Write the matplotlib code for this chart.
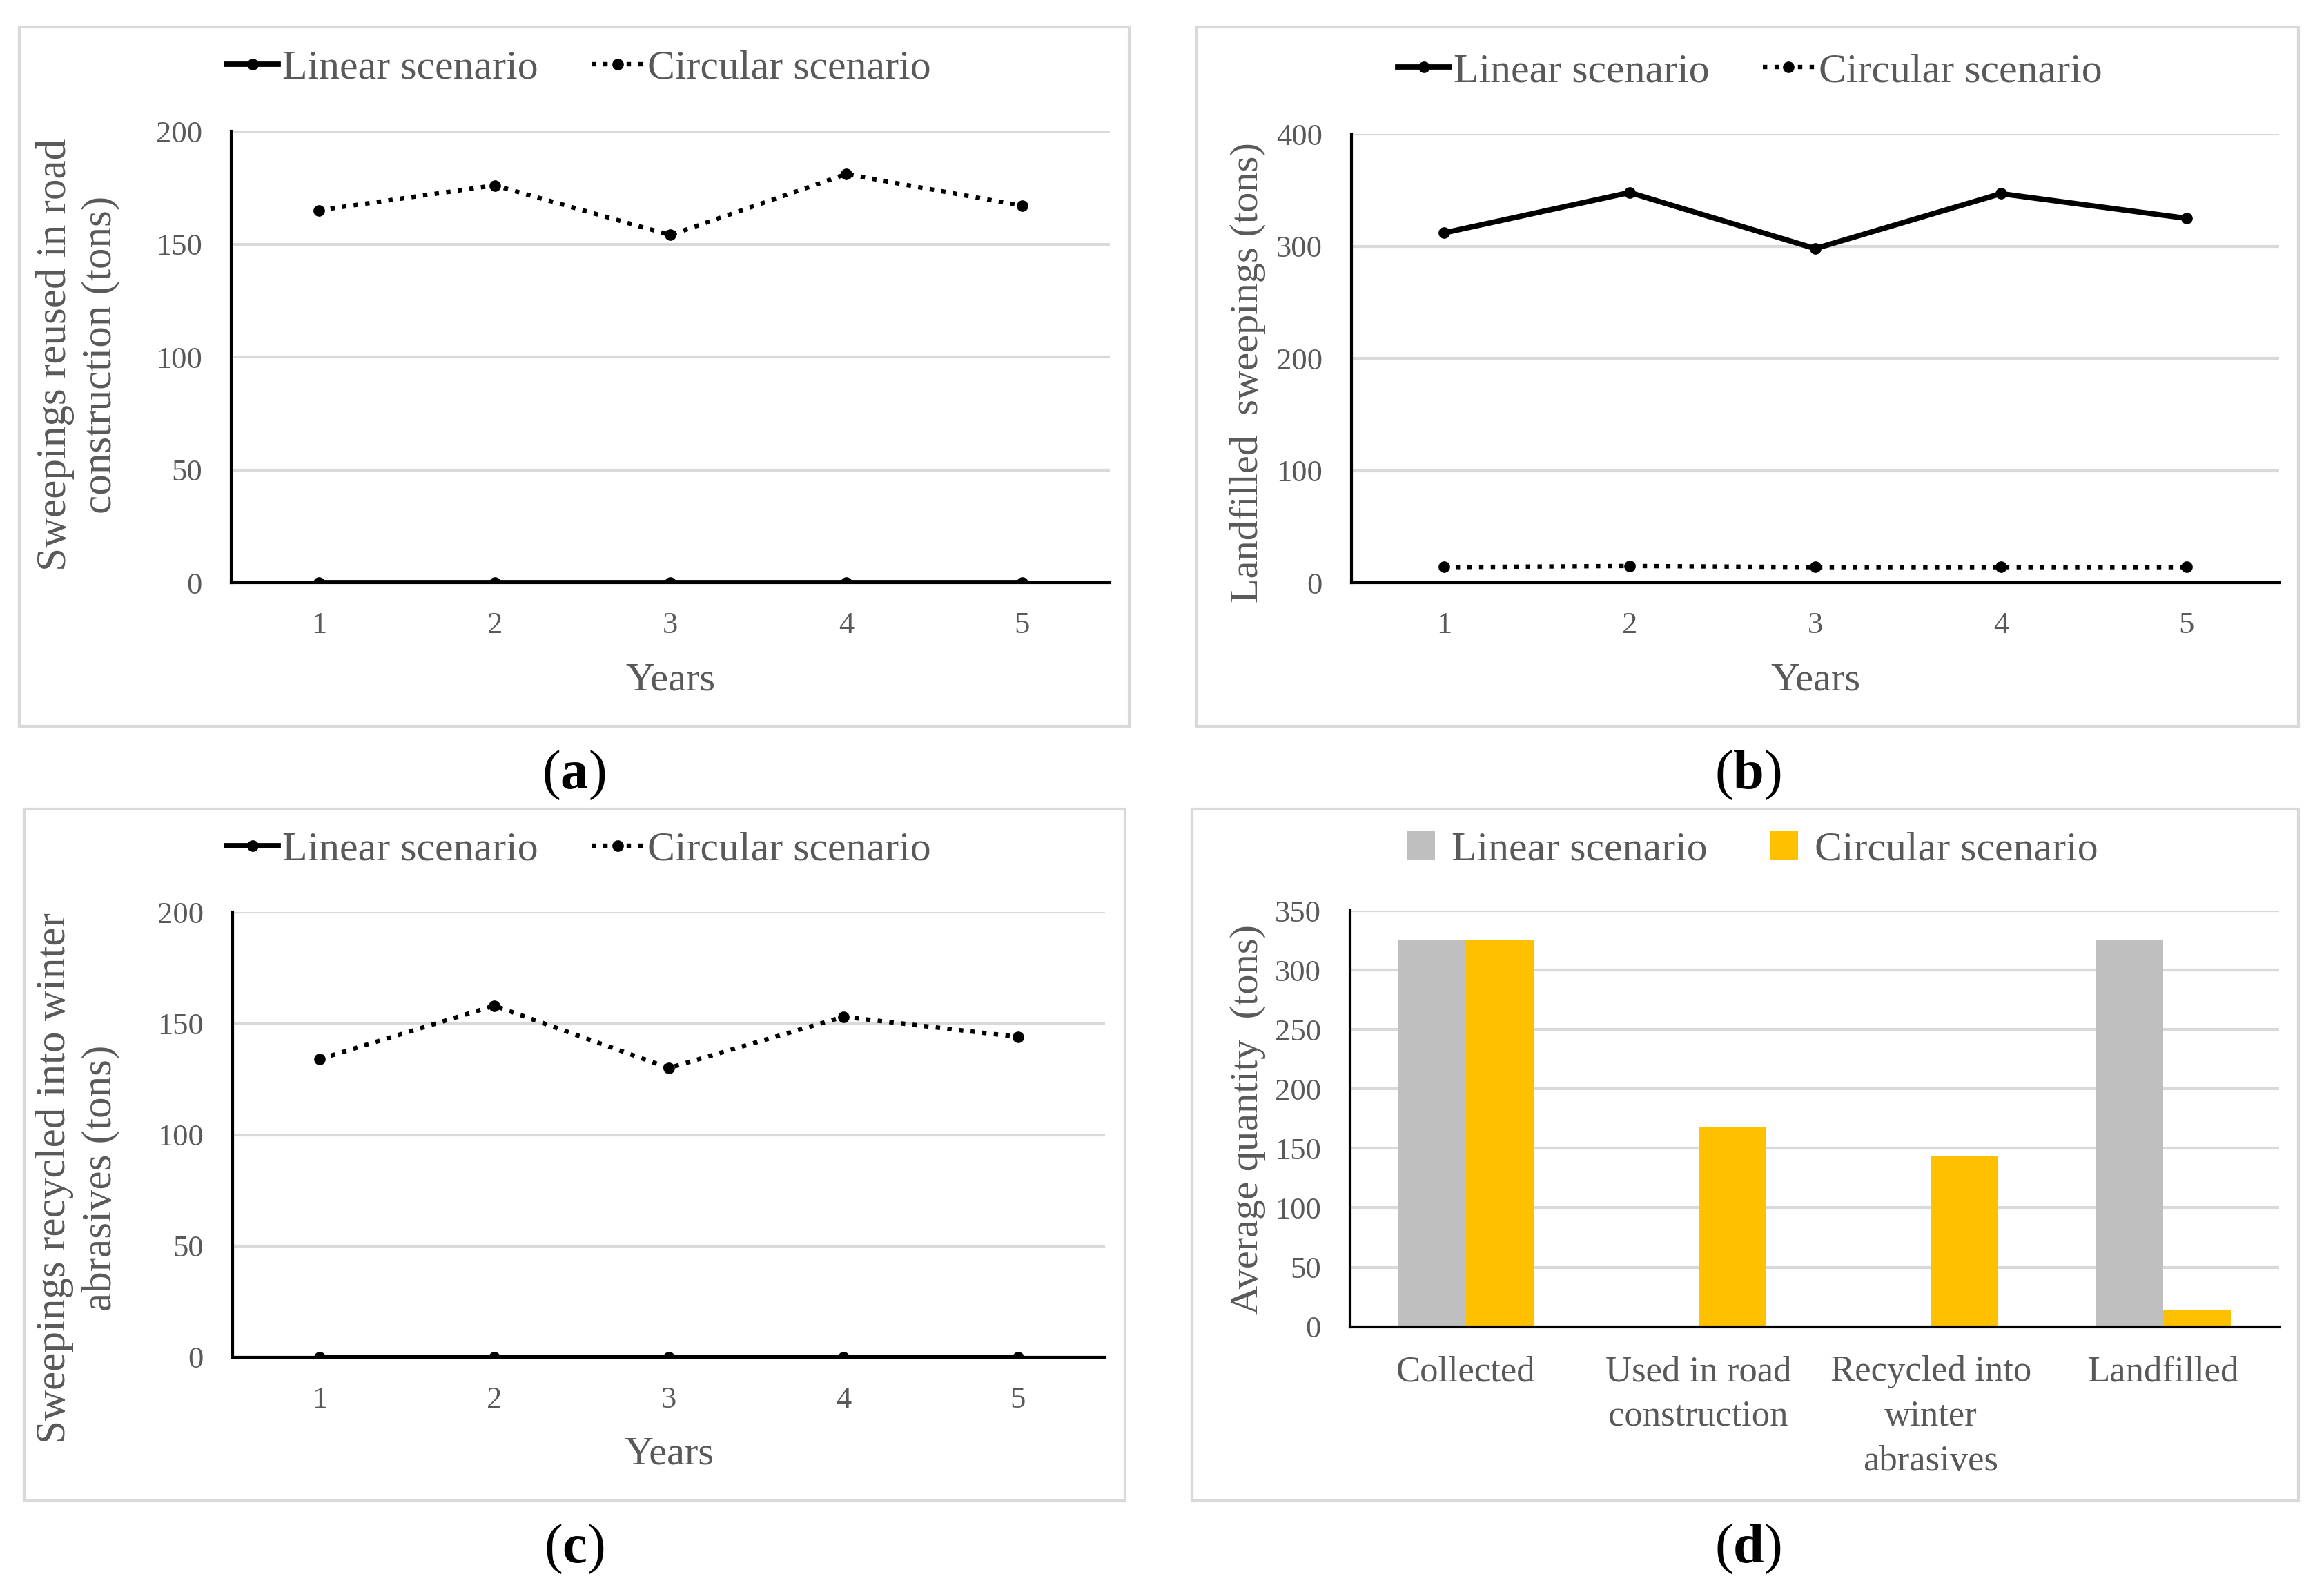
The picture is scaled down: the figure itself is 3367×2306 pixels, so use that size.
import matplotlib
matplotlib.use('Agg')
import matplotlib.pyplot as plt
from matplotlib.patches import Rectangle
import numpy as np

years = [1, 2, 3, 4, 5]

# (a) sweepings reused in road construction
road_linear = [0, 0, 0, 0, 0]
road_circular = [165, 176, 154, 181, 167]

# (b) landfilled sweepings
land_linear = [312, 348, 298, 347, 325]
land_circular = [14, 15, 14, 14, 14]

# (c) sweepings recycled into winter abrasives
abr_linear = [0, 0, 0, 0, 0]
abr_circular = [134, 158, 130, 153, 144]

# (d) average quantities
categories = ['Collected', 'Used in road\nconstruction',
              'Recycled into\nwinter\nabrasives', 'Landfilled']
avg_linear = [326, 0, 0, 326]
avg_circular = [326, 168, 143, 14]

plt.rcParams['font.family'] = ['Liberation Serif', 'DejaVu Serif']
plt.rcParams['mathtext.fontset'] = 'custom'
plt.rcParams['mathtext.rm'] = 'Liberation Serif'
plt.rcParams['mathtext.bf'] = 'Liberation Serif:bold'
txt = '#595959'
grid = '#d9d9d9'

fig = plt.figure(figsize=(16.835, 11.53), dpi=200)

# panel frames
for x0, y0, x1, y1 in [(0.0083, 0.544, 0.4859, 0.9831), (0.5147, 0.544, 0.9891, 0.9831),
                       (0.0103, 0.0571, 0.484, 0.4916), (0.5128, 0.0571, 0.9891, 0.4916)]:
    fig.patches.append(Rectangle((x0, y0), x1 - x0, y1 - y0, transform=fig.transFigure,
                                 fill=False, edgecolor=grid, lw=1.5))


def style(ax, ymax, step):
    ax.set_ylim(0, ymax)
    ax.set_yticks(np.arange(0, ymax + 1, step))
    ax.grid(True, axis='y', color=grid, lw=1.5)
    ax.set_axisbelow(True)
    for s in ['top', 'right']:
        ax.spines[s].set_visible(False)
    ax.spines['left'].set_linewidth(1.5)
    ax.spines['bottom'].set_linewidth(1.5)
    ax.tick_params(length=0, labelsize=16, labelcolor=txt, pad=15)


def line_panel(rect, lin, circ, ymax, step, legend_xy):
    ax = fig.add_axes(rect)
    l1, = ax.plot(years, lin, color='black', lw=2.8, marker='o', ms=5, label='Linear scenario')
    l2, = ax.plot(years, circ, color='black', lw=2.3, ls=':', marker='o', ms=5,
                  label='Circular scenario')
    ax.set_xlim(0.5, 5.5)
    ax.set_xticks(years)
    style(ax, ymax, step)
    fig.legend(handles=[l1, l2], loc='center', bbox_to_anchor=legend_xy, ncol=2,
               frameon=False, fontsize=21.5, labelcolor=txt, handlelength=1.25,
               handletextpad=0.1, columnspacing=1.3)
    ax.set_xlabel('Years', fontsize=21, color=txt, labelpad=12)
    return ax


ax_a = line_panel([0.0994, 0.6339, 0.3782, 0.2837], road_linear, road_circular, 200, 50,
                  (0.249, 0.957))
fig.text(0.0335, 0.777, 'Sweepings reused in road\nconstruction (tons)', rotation=90,
         ha='center', va='center', fontsize=22, color=txt, linespacing=1.25)

ax_b = line_panel([0.5814, 0.6339, 0.3994, 0.2818], land_linear, land_circular, 400, 100,
                  (0.753, 0.955))
fig.text(0.537, 0.766, 'Landfilled  sweepings (tons)', rotation=90,
         ha='center', va='center', fontsize=21, color=txt)

ax_c = line_panel([0.1, 0.1475, 0.3756, 0.2795], abr_linear, abr_circular, 200, 50,
                  (0.249, 0.466))
fig.text(0.0335, 0.26, 'Sweepings recycled into winter\nabrasives (tons)', rotation=90,
         ha='center', va='center', fontsize=22, color=txt, linespacing=1.25)

# (d) bars
ax_d = fig.add_axes([0.5808, 0.1667, 0.4, 0.2612])
x = np.arange(len(categories))
w = 0.29
b1 = ax_d.bar(x - w / 2, avg_linear, w, color='#bfbfbf', label='Linear scenario')
b2 = ax_d.bar(x + w / 2, avg_circular, w, color='#ffc000', label='Circular scenario')
ax_d.set_xlim(-0.5, 3.5)
ax_d.set_xticks(x)
ax_d.set_xticklabels(categories, linespacing=1.45, va='top')
style(ax_d, 350, 50)
ax_d.tick_params(axis='x', labelsize=19, pad=15)
fig.legend(handles=[b1, b2], loc='center', bbox_to_anchor=(0.754, 0.466), ncol=2,
           frameon=False, fontsize=21.5, labelcolor=txt, handlelength=0.7, handleheight=0.7,
           handletextpad=0.4, columnspacing=1.5)
fig.text(0.537, 0.297, 'Average quantity  (tons)', rotation=90,
         ha='center', va='center', fontsize=21, color=txt)

# captions: bold letter in plain parentheses
for cx, cy, s in [(0.247, 0.513, 'a'), (0.752, 0.513, 'b'),
                  (0.247, 0.027, 'c'), (0.752, 0.027, 'd')]:
    fig.text(cx, cy, r'($\mathbf{%s}$)' % s, ha='center', va='center', fontsize=29)

fig.savefig('out.png', dpi=200, facecolor='white')
